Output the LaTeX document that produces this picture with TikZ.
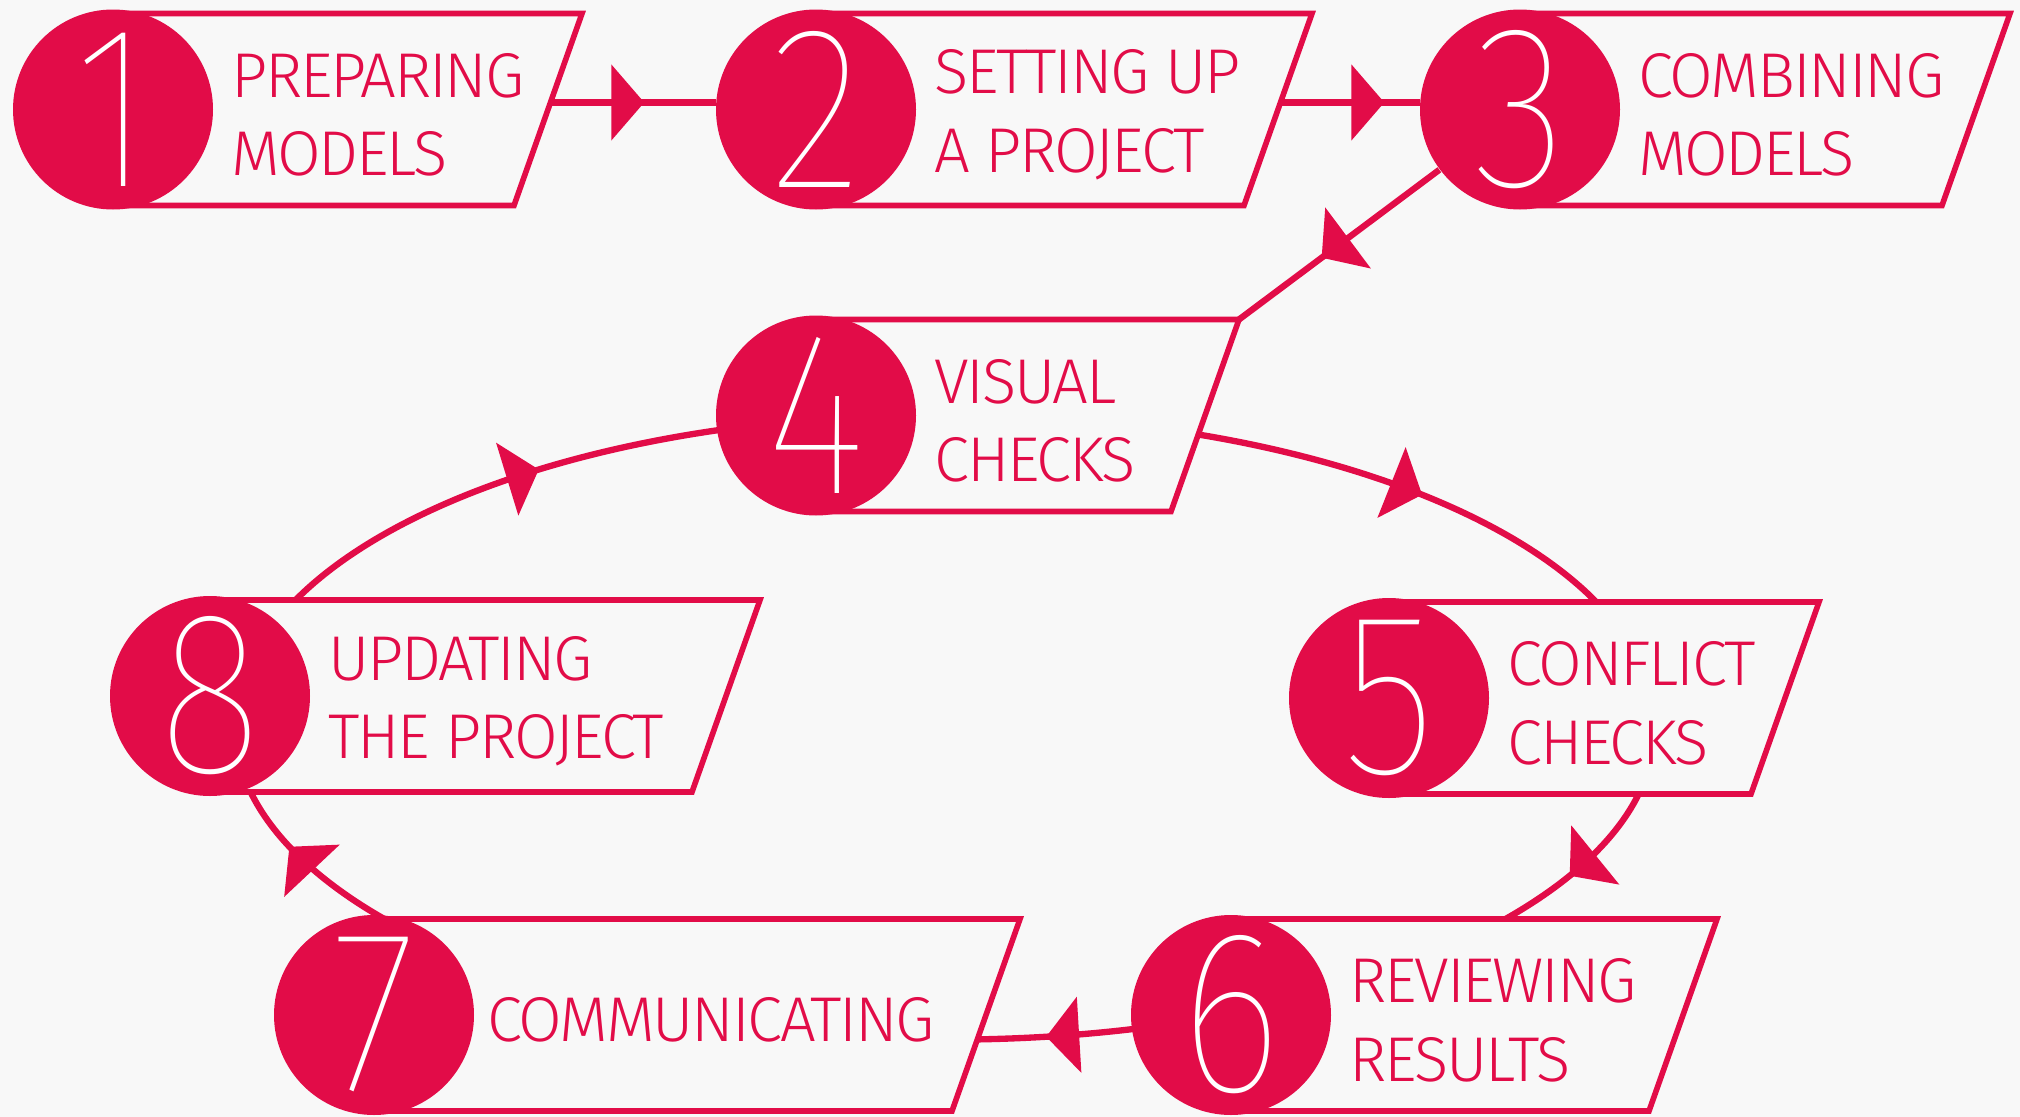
\documentclass[tikz,border=0pt]{standalone}
\usepackage{graphicx}
\usepackage{fontspec}
\setmainfont[LetterSpace=-3.5]{Fira Sans Light}
\newfontfamily\numfont{Fira Sans Thin}
\usetikzlibrary{arrows.meta, decorations.markings, backgrounds, positioning, calc}
\definecolor{red1}{RGB}{226,12,72}
\definecolor{paper1}{RGB}{248,248,248}
\newcommand{\narrow}[1]{\scalebox{0.85}[1]{#1}}

\begin{document}
\begin{tikzpicture}[>={Triangle[length=3.3mm,width=7.5mm]}]
  \tikzstyle{num}=[circle,fill=red1,minimum size=2cm,inner sep=0pt,text=white,
                   font=\numfont\fontsize{66}{66}\selectfont]
  \tikzstyle{txt}=[align=left,inner sep=0pt,yshift=-1.5pt,text=red1,font=\fontsize{18}{22.3}\selectfont]
  \tikzstyle{frame}=[draw=red1,line width=1.6pt,fill=paper1]
  \tikzset{flow/.style={draw=red1,line width=1.8pt,postaction={decorate},
           decoration={markings,mark=at position #1 with {\arrow{>}}}}}
  \useasboundingbox (0,0) rectangle (20.2,-11.17);

  \node[num]  (prep)      at (1.13,-1.095)  {\narrow{1}};
  \node[num]  (setup)     at (8.16,-1.095)  {\narrow{2}};
  \node[num]  (combine)   at (15.20,-1.095) {\narrow{3}};
  \node[num]  (visual)    at (8.16,-4.155)  {\narrow{4}};
  \node[num]  (conflict)  at (13.89,-6.98)  {\narrow{5}};
  \node[num]  (review)    at (12.31,-10.15) {\narrow{6}};
  \node[num]  (comm)      at (3.74,-10.15)  {\narrow{7}};
  \node[num]  (update)    at (2.10,-6.96)   {\narrow{8}};

  \node[txt,right=0.17cm of prep]     (lprep)     {PREPARING\\MODELS};
  \node[txt,right=0.17cm of setup]    (lsetup)    {SETTING UP\\A PROJECT};
  \node[txt,right=0.17cm of combine]  (lcombine)  {COMBINING\\MODELS};
  \node[txt,right=0.17cm of visual]   (lvisual)   {VISUAL\\CHECKS};
  \node[txt,right=0.17cm of conflict] (lconflict) {CONFLICT\\CHECKS};
  \node[txt,right=0.17cm of review]   (lreview)   {REVIEWING\\RESULTS};
  \node[txt,right=0.12cm of comm]     (lcomm)     {COMMUNICATING};
  \node[txt,right=0.17cm of update]   (lupdate)   {UPDATING\\THE PROJECT};

  % ends of the loop connectors, on an ellipse round the ring
  \coordinate (ring) at (9.45,-7.27);
  \coordinate (f4) at ($(visual)+(4.23,0.96)$);
  \coordinate (o4) at ($(ring)+(72:7.1 and 3.13)$);
  \coordinate (i5) at ($(ring)+(18:7.1 and 3.13)$);
  \coordinate (o5) at ($(ring)+(-5:7.1 and 3.13)$);
  \coordinate (i6) at ($(ring)+(-45:7.1 and 3.13)$);
  \coordinate (o6) at ($(ring)+(-65:7.1 and 3.13)$);
  \coordinate (i7) at ($(ring)+(-100:7.1 and 3.13)$);
  \coordinate (o7) at ($(ring)+(-125:7.1 and 3.13)$);
  \coordinate (i8) at ($(ring)+(-172:7.1 and 3.13)$);
  \coordinate (o8) at ($(ring)+(165:7.1 and 3.13)$);
  \coordinate (i4) at ($(ring)+(104:7.1 and 3.13)$);

  \begin{scope}[on background layer]
    \fill[paper1] (0,0) rectangle (20.2,-11.17);
    \path[flow=0.858] (prep.4) -- (setup.176);
    \path[flow=0.930] (setup.4) -- (combine.176);
    \path[flow=0.588] (combine) -- (f4);
    \path[flow=0.523] (o4) to[out=-8,in=126,out looseness=1.12,in looseness=0.61] (i5);
    \path[flow=0.512] (o5) to[out=-101,in=24,out looseness=0.68,in looseness=1.17] (i6);
    \path[flow=0.472] (o6) to[out=192,in=-4,out looseness=0.81,in looseness=0.87] (i7);
    \path[flow=0.760] (o7) to[out=163,in=-72,out looseness=1.18,in looseness=0.63] (i8);
    \path[flow=0.585] (o8) to[out=59,in=186,out looseness=0.59,in looseness=1.15] (i4);

    \path[frame] (prep.center)     ++(0,0.96) -- ++(4.69,0) -- ++(-0.68,-1.92) -- ++(-4.01,0) -- cycle;
    \path[frame] (setup.center)    ++(0,0.96) -- ++(4.96,0) -- ++(-0.68,-1.92) -- ++(-4.28,0) -- cycle;
    \path[frame] (combine.center)  ++(0,0.96) -- ++(4.90,0) -- ++(-0.68,-1.92) -- ++(-4.22,0) -- cycle;
    \path[frame] (visual.center)   ++(0,0.96) -- ++(4.23,0) -- ++(-0.68,-1.92) -- ++(-3.55,0) -- cycle;
    \path[frame] (conflict.center) ++(0,0.96) -- ++(4.30,0) -- ++(-0.68,-1.92) -- ++(-3.62,0) -- cycle;
    \path[frame] (review.center)   ++(0,0.96) -- ++(4.86,0) -- ++(-0.68,-1.92) -- ++(-4.18,0) -- cycle;
    \path[frame] (comm.center)     ++(0,0.96) -- ++(6.46,0) -- ++(-0.68,-1.92) -- ++(-5.78,0) -- cycle;
    \path[frame] (update.center)   ++(0,0.96) -- ++(5.50,0) -- ++(-0.68,-1.92) -- ++(-4.82,0) -- cycle;
  \end{scope}
\end{tikzpicture}
\end{document}
